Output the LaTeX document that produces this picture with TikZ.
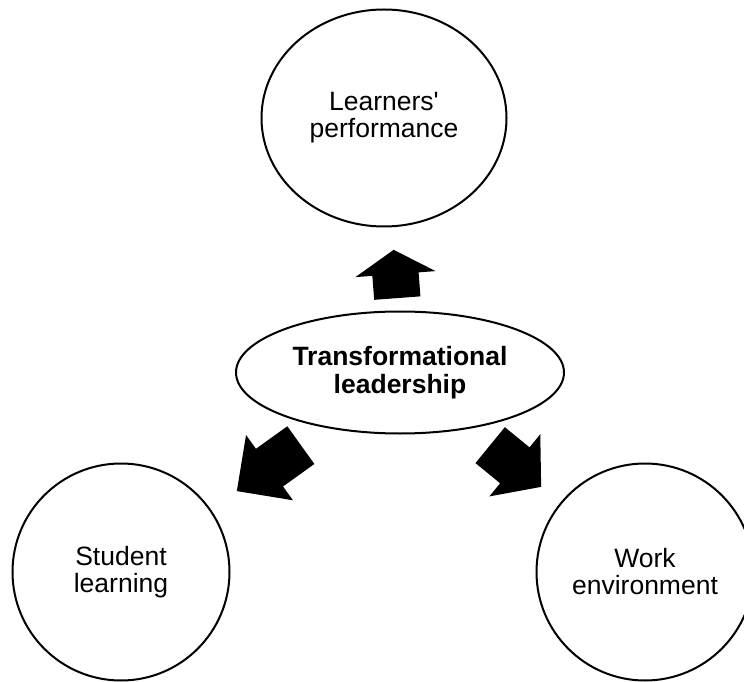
\documentclass[tikz,border=0pt]{standalone}
\usepackage{fontspec}
\setmainfont{Liberation Sans}
\usetikzlibrary{shapes.geometric,shapes.arrows}

\tikzset{
  bubble/.style={draw,ellipse,line width=2pt,align=center,inner sep=0pt,
    font=\fontsize{26.5}{27}\selectfont},
  fatarrow/.style={single arrow,fill=black,anchor=tail,inner xsep=0pt,
    inner ysep=23pt,single arrow head extend=17pt,minimum width=0pt},
}

\begin{document}
\begin{tikzpicture}[x=1pt,y=1pt]
  \clip (0,0) rectangle (744,681);

  % the central idea
  \node[bubble,minimum width=328pt,minimum height=122pt,
        font=\fontsize{26.5}{28.5}\selectfont\bfseries]
    (hub) at (400,308.5) {Transformational\\leadership};

  % what it acts on
  \node[bubble,minimum width=245pt,minimum height=217pt]
    (perf) at (384,563) {Learners\textquotesingle\\performance};
  \node[bubble,minimum width=217pt,minimum height=217pt]
    (learn) at (121,109) {Student\\learning};
  \node[bubble,minimum width=217pt,minimum height=217pt]
    (env) at (645,109) {Work\\environment};

  % block arrows pointing outwards
  \node[fatarrow,rotate=94.3,minimum height=48.4pt,single arrow tip angle=117.6]
    (toPerf) at (397.3,382.7) {};
  \node[fatarrow,rotate=215.7,minimum height=78.8pt,single arrow tip angle=90]
    (toLearn) at (301,236) {};
  \node[fatarrow,rotate=-39.3,minimum height=65.9pt,single arrow tip angle=99.5]
    (toEnv) at (490,236) {};
\end{tikzpicture}
\end{document}
